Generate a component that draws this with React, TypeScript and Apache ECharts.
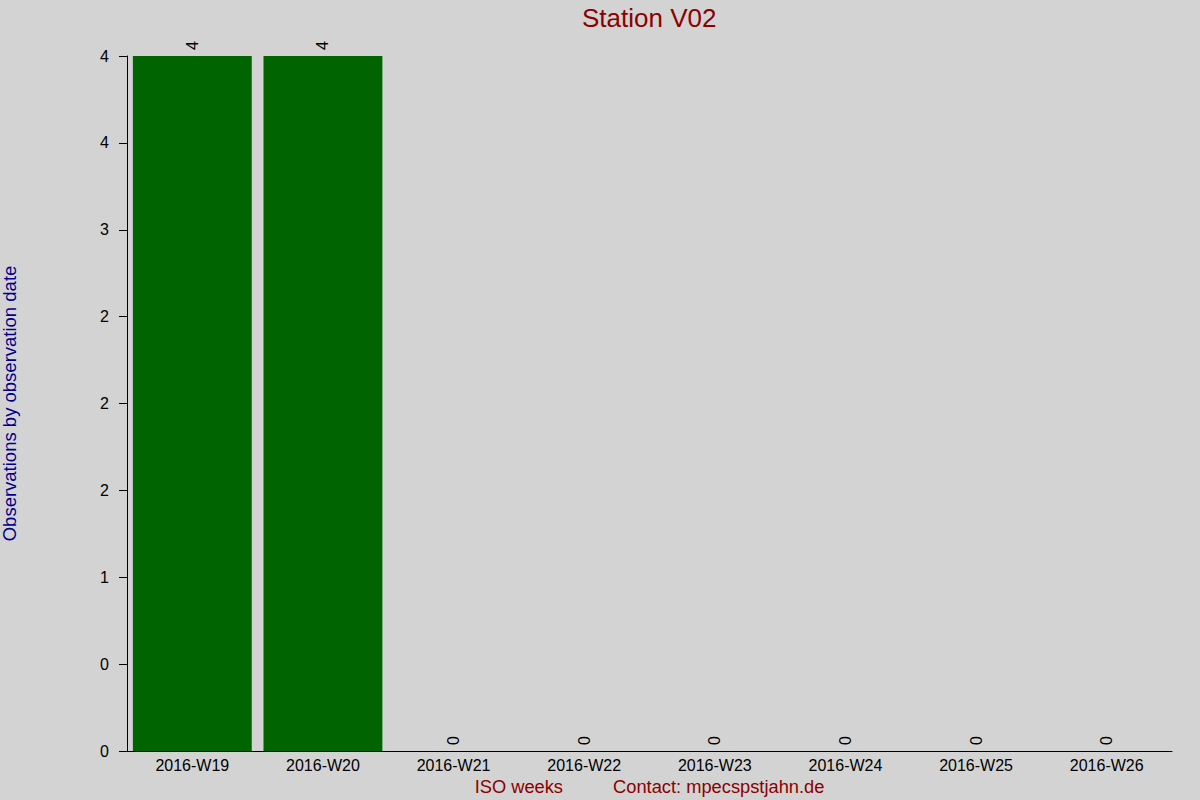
import { useEffect, useRef } from 'react';
import * as echarts from 'echarts';

const weeks = [
  '2016-W19',
  '2016-W20',
  '2016-W21',
  '2016-W22',
  '2016-W23',
  '2016-W24',
  '2016-W25',
  '2016-W26',
];
const observations = [4, 4, 0, 0, 0, 0, 0, 0];
// the original axis shows rounded half-steps
const yTickLabels = ['0', '0', '1', '2', '2', '2', '3', '4', '4'];

const FONT = '"Liberation Sans", Arial, sans-serif';

export default function App() {
  const ref = useRef<HTMLDivElement | null>(null);

  useEffect(() => {
    if (!ref.current) return;
    const chart = echarts.init(ref.current, null, { renderer: 'svg' });
    chart.setOption({
      animation: false,
      backgroundColor: '#d3d3d3',
      textStyle: { fontFamily: FONT },
      title: {
        text: 'Station V02',
        left: 577,
        top: 0,
        textStyle: { color: '#8b0000', fontSize: 26, fontWeight: 'normal', fontFamily: FONT },
      },
      grid: { left: 127, right: 28, top: 56, bottom: 49, outerBoundsMode: 'none' },
      xAxis: {
        type: 'category',
        data: weeks,
        name: '{a|ISO weeks}{gap|}{b|Contact: mpecspstjahn.de}',
        nameLocation: 'middle',
        nameGap: 21,
        nameTextStyle: {
          rich: {
            a: { color: '#8b0000', fontSize: 18.3, fontFamily: FONT },
            gap: { width: 50 },
            b: { color: '#8b0000', fontSize: 18.3, fontFamily: FONT },
          },
        },
        axisLine: { lineStyle: { color: '#000', width: 1 } },
        axisTick: { show: false },
        axisLabel: { color: '#000', fontSize: 16, margin: 6, fontFamily: FONT },
      },
      yAxis: {
        type: 'value',
        min: 0,
        max: 4,
        interval: 0.5,
        name: 'Observations by observation date',
        nameLocation: 'middle',
        nameGap: 108,
        nameTextStyle: { color: '#00008b', fontSize: 18.5, fontFamily: FONT },
        axisLine: { show: true, lineStyle: { color: '#000', width: 1 } },
        axisTick: { show: true, length: 8, lineStyle: { color: '#000' } },
        splitLine: { show: false },
        axisLabel: {
          color: '#000',
          fontSize: 16,
          margin: 18,
          fontFamily: FONT,
          formatter: (_v: number, i: number) => yTickLabels[i] ?? '',
        },
      },
      series: [
        {
          type: 'bar',
          data: observations,
          barCategoryGap: '9%',
          itemStyle: { color: '#006400' },
          label: {
            show: true,
            position: 'top',
            rotate: 90,
            align: 'left',
            verticalAlign: 'middle',
            distance: 6,
            color: '#000',
            fontSize: 16,
            fontFamily: FONT,
          },
        },
      ],
    });
    return () => chart.dispose();
  }, []);

  return (
    <div
      ref={ref}
      style={{ position: 'fixed', left: 0, top: 0, width: 1200, height: 800 }}
    />
  );
}
